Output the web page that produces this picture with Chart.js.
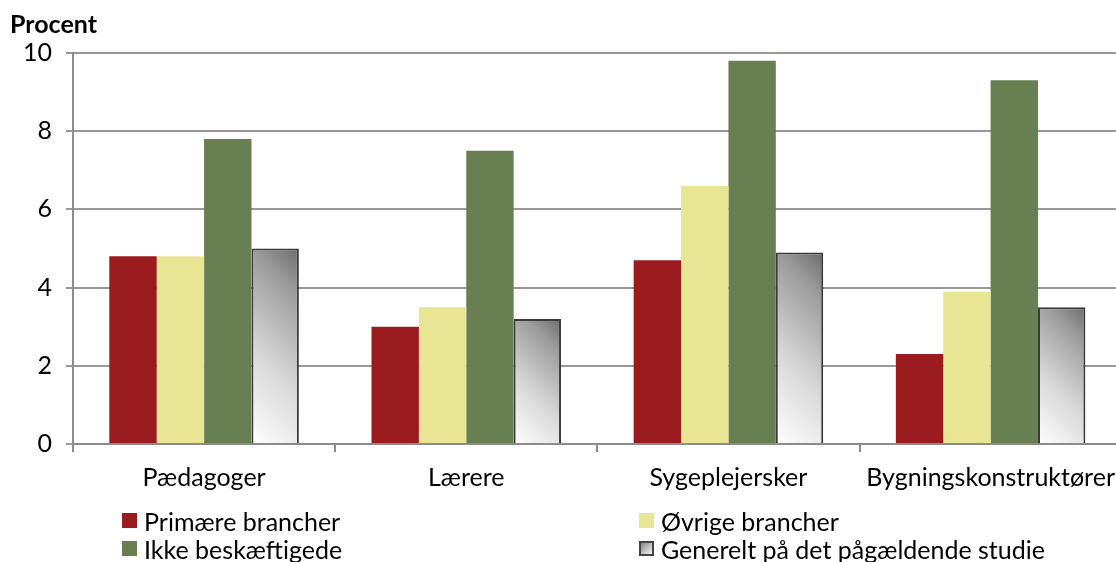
<!DOCTYPE html>
<html><head><meta charset="utf-8">
<script src="https://cdn.jsdelivr.net/npm/chart.js@4.4.0/dist/chart.umd.min.js"></script>
<style>
html,body{margin:0;padding:0;background:#fff;overflow:hidden;}
#wrap{position:relative;width:1116px;height:562px;overflow:hidden;font-family:Lato,"Open Sans",sans-serif;color:#000;}
canvas{position:absolute;left:0;top:0;}
#ytitle{position:absolute;left:10px;top:11px;font-weight:bold;font-size:25px;line-height:24px;}
.lg{position:absolute;font-size:25px;line-height:24px;white-space:nowrap;}
.sw{position:absolute;left:0;top:4px;width:15px;height:15px;box-sizing:border-box;}
.tx{position:absolute;left:22px;top:0;}
</style></head>
<body><div id="wrap"><canvas id="c" width="1126" height="562"></canvas><div id="ytitle">Procent</div><div id="legend"></div></div>
<script>
const categories = ["Pædagoger", "Lærere", "Sygeplejersker", "Bygningskonstruktører"];
const seriesNames = ["Primære brancher", "Øvrige brancher", "Ikke beskæftigede", "Generelt på det pågældende studie"];
const primaere = [4.8, 3.0, 4.7, 2.3];
const oevrige = [4.8, 3.5, 6.6, 3.9];
const ikkeBesk = [7.8, 7.5, 9.8, 9.3];
const generelt = [5.0, 3.2, 4.9, 3.5];
const yTicks = [0, 2, 4, 6, 8, 10];

const colors = ["#9A1C1F", "#E8E594", "#687F51"];
const CAT_PCT = 0.723;

function gradFill(ctx) {
  const chart = ctx.chart;
  const xs = chart.scales.x, ys = chart.scales.y;
  if (!xs || !ys || ctx.dataIndex === undefined || !chart.chartArea) return "#ccc";
  const catW = (chart.chartArea.right - chart.chartArea.left) / categories.length;
  const barW = catW * CAT_PCT / 4;
  const cx = xs.getPixelForValue(ctx.dataIndex) + 1.5 * barW;
  const right = cx + barW / 2;
  const top = ys.getPixelForValue(generelt[ctx.dataIndex]);
  const base = ys.getPixelForValue(0);
  const h = base - top;
  const s = (barW + h) / 2;
  const g = chart.ctx.createLinearGradient(right, top, right - s, top + s);
  g.addColorStop(0, "#6c6c6c");
  g.addColorStop(0.2, "#9c9c9c");
  g.addColorStop(0.6, "#d8d8d8");
  g.addColorStop(1, "#ffffff");
  return g;
}

const chart = new Chart(document.getElementById("c"), {
  type: "bar",
  data: {
    labels: categories,
    datasets: [
      { label: seriesNames[0], data: primaere, backgroundColor: colors[0], borderWidth: 0 },
      { label: seriesNames[1], data: oevrige, backgroundColor: colors[1], borderWidth: 0 },
      { label: seriesNames[2], data: ikkeBesk, backgroundColor: colors[2], borderWidth: 0 },
      { label: seriesNames[3], data: generelt, backgroundColor: gradFill, borderColor: "#3a3a3a", borderWidth: 2, borderSkipped: "bottom" }
    ]
  },
  options: {
    responsive: false,
    animation: false,
    devicePixelRatio: 1,
    datasets: { bar: { categoryPercentage: CAT_PCT, barPercentage: 1 } },
    layout: { padding: { top: 53, right: 0, bottom: 70, left: 0 } },
    plugins: { legend: { display: false }, tooltip: { enabled: false }, title: { display: false } },
    scales: {
      x: {
        grid: { display: true, drawOnChartArea: false, drawTicks: true, tickLength: 8, color: "#8c8c8c", lineWidth: 2, offset: true },
        border: { display: true, color: "#8c8c8c", width: 2 },
        ticks: { color: "#000", font: { family: "Lato", size: 25 }, padding: 11, maxRotation: 0, autoSkip: false },
        afterFit: s => { s.height = 48; }
      },
      y: {
        min: 0, max: 10,
        afterBuildTicks: s => { s.ticks = yTicks.map(v => ({ value: v })); },
        grid: { color: "#999999", lineWidth: 2, drawTicks: true, tickLength: 7 },
        border: { display: true, color: "#8c8c8c", width: 2 },
        ticks: { color: "#000", font: { family: "Lato", size: 25 }, padding: 14 },
        afterFit: s => { s.width = 73; }
      }
    }
  }
});

// HTML legend
const lg = document.getElementById("legend");
const pos = [[122, 509], [639, 509], [122, 537], [639, 537]];
[0, 1, 2, 3].forEach((i, k) => {
  const d = document.createElement("div");
  d.className = "lg";
  d.style.left = pos[k][0] + "px";
  d.style.top = pos[k][1] + "px";
  const sw = document.createElement("span");
  sw.className = "sw";
  if (i < 3) sw.style.background = colors[i];
  else { sw.style.background = "linear-gradient(135deg,#888,#f4f4f4)"; sw.style.border = "2px solid #444"; }
  const tx = document.createElement("span");
  tx.className = "tx";
  tx.textContent = seriesNames[i];
  d.appendChild(sw);
  d.appendChild(tx);
  lg.appendChild(d);
});
</script></body></html>
